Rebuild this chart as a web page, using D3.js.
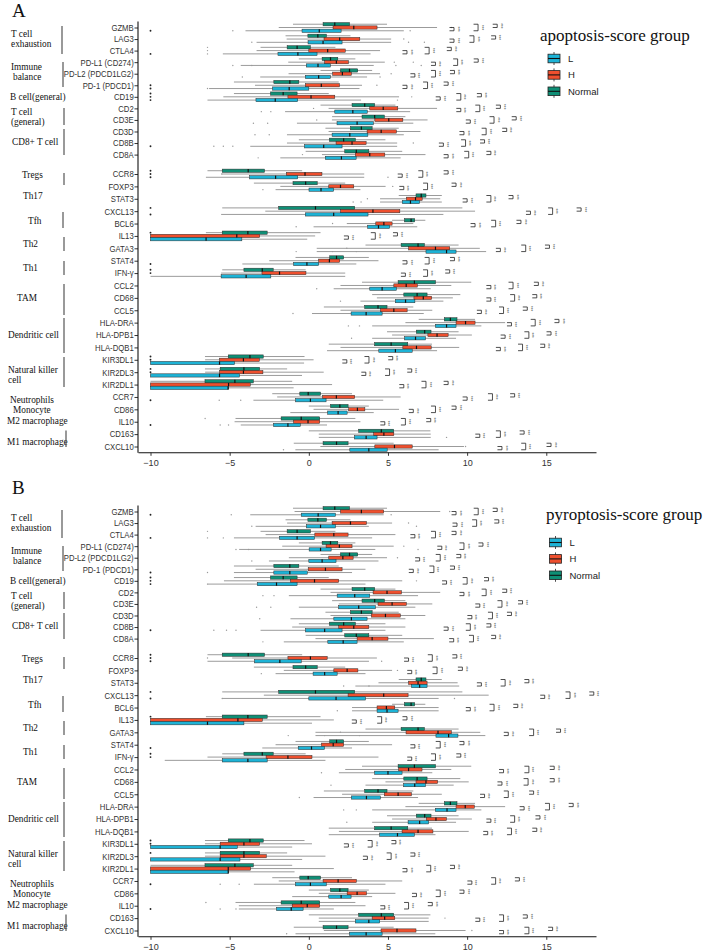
<!DOCTYPE html>
<html>
<head>
<meta charset="utf-8">
<script src="https://cdnjs.cloudflare.com/ajax/libs/d3/7.8.5/d3.min.js"></script>
<style>
  body { margin: 0; background: #fff; }
  svg { display: block; }
</style>
</head>
<body>
<svg id="chart" width="708" height="952"></svg>
<script>
// genes, top block then bottom block
var genesTop = ["GZMB", "LAG3", "CTLA4", "PD-L1 (CD274)", "PD-L2 (PDCD1LG2)", "PD-1 (PDCD1)",
  "CD19", "CD2", "CD3E", "CD3D", "CD8B", "CD8A"];
var genesBottom = ["CCR8", "FOXP3", "STAT3", "CXCL13", "BCL6", "IL13", "GATA3", "STAT4", "IFN-γ",
  "CCL2", "CD68", "CCL5", "HLA-DRA", "HLA-DPB1", "HLA-DQB1", "KIR3DL1", "KIR2DL3", "KIR2DL1",
  "CCR7", "CD86", "IL10", "CD163", "CXCL10"];
var groups = ["Normal", "H", "L"];
var legendOrder = ["L", "H", "Normal"];
var xTicks = [-10, -5, 0, 5, 10, 15];

// box stats per gene: [low whisker, q1, median, q3, high whisker]
// Normal samples are the same in both panels
var normalBox = [
  [-1.0, 0.9, 1.64, 2.57, 4.94], [-1.47, -0.06, 0.57, 1.11, 2.63], [-3.05, -1.37, -0.74, 0.1, 1.68],
  [-0.63, 0.84, 1.37, 1.83, 2.94], [0.74, 2.0, 2.57, 3.09, 4.0], [-4.73, -2.21, -1.2, -0.63, 1.89],
  [-4.73, -2.42, -1.62, -0.74, 1.26], [0.74, 2.73, 3.53, 4.16, 5.47], [1.47, 3.36, 4.16, 4.77, 6.1],
  [1.05, 2.63, 3.32, 4.0, 5.68], [-0.63, 1.3, 2.2, 2.94, 4.84], [-0.2, 2.27, 3.0, 3.79, 5.9],
  [-6.4, -5.47, -3.83, -2.8, -0.42], [-3.47, -1.0, -0.2, 0.53, 2.3], [5.68, 6.77, 7.1, 7.4, 8.4],
  [-5.47, -1.9, 0.42, 2.9, 9.7], [5.26, 6.04, 6.46, 6.69, 7.36], [-6.5, -5.47, -3.85, -2.63, 0.74],
  [3.58, 5.83, 6.9, 7.3, 9.46], [-0.84, 1.32, 1.75, 2.2, 3.79], [-5.47, -4.1, -2.94, -2.25, -0.2],
  [3.36, 5.64, 6.67, 8.0, 10.26], [4.0, 6.0, 6.84, 7.47, 9.57], [0.95, 3.53, 4.37, 4.94, 6.6],
  [6.94, 8.56, 8.94, 9.36, 10.5], [4.94, 6.79, 7.32, 7.72, 9.46], [1.26, 4.16, 5.2, 6.25, 7.78],
  [-6.56, -5.09, -3.72, -2.88, -0.27], [-6.56, -5.6, -4.1, -3.11, -1.37], [-10, -6.56, -4.67, -3.51, -1.05],
  [-2.31, -0.57, -0.04, 0.74, 2.73], [0.0, 1.37, 1.96, 2.48, 3.79], [-4.63, -1.75, -0.48, 0.69, 2.94],
  [0.0, 3.15, 4.58, 5.36, 7.68], [-0.95, 0.9, 1.75, 2.48, 5.36]
];

var apoptosisH = [
  [-1.9, 1.53, 2.84, 4.31, 8.1], [-1.4, 0.96, 1.95, 3.22, 5.2], [-3.3, 0.0, 1.19, 2.3, 4.5],
  [-1.3, 1.0, 1.74, 2.5, 4.8], [-1.28, 1.51, 2.12, 2.69, 4.5], [-3.4, -0.22, 0.79, 1.93, 3.36],
  [-5.4, -1.32, 0.14, 1.64, 5.7], [1.25, 3.85, 4.7, 5.62, 8.1], [1.46, 4.17, 5.05, 5.94, 7.5],
  [1.25, 3.68, 4.57, 5.53, 7.05], [-1.38, 1.72, 2.73, 3.62, 5.58], [0.83, 2.94, 3.85, 4.8, 7.37],
  [-5.5, -1.42, -0.24, 0.83, 3.5], [-1.8, 1.26, 2.0, 2.84, 4.85], [4.5, 6.17, 6.74, 7.16, 8.3],
  [-2.75, 2.0, 4.05, 5.75, 10.5], [2.4, 4.23, 4.74, 5.26, 6.6], [-10, -10, -4.55, -3.1, 0.4],
  [0.5, 6.3, 8.0, 8.9, 10.8], [-2.5, 0.62, 1.3, 1.95, 4.4], [-5.54, -2.96, -1.85, -0.18, 2.3],
  [2.0, 5.37, 6.15, 6.85, 9.0], [4.3, 6.64, 7.23, 7.76, 9.1], [2.0, 4.53, 5.37, 6.21, 7.8],
  [6.1, 9.3, 9.9, 10.5, 12.4], [5.26, 7.52, 8.1, 8.8, 10.3], [2.0, 5.94, 6.8, 7.73, 9.5],
  [-6.55, -5.64, -4.13, -3.13, 0.3], [-6.55, -5.64, -4.13, -2.9, 0.94], [-10, -10, -5.07, -3.7, 1.47],
  [-2.0, 0.87, 1.74, 2.9, 5.8], [0.3, 2.52, 3.07, 3.54, 5.7], [-4.69, -0.96, -0.05, 0.69, 3.26],
  [0.63, 4.1, 4.74, 5.37, 7.7], [0.73, 4.17, 5.41, 6.53, 9.8]
];
var apoptosisL = [
  [-4.0, -0.43, 0.66, 2.04, 6.0], [-3.3, -0.05, 0.9, 2.1, 5.2], [-5.43, -1.95, -0.69, 0.52, 3.9],
  [-4.3, -0.16, 0.58, 1.36, 4.1], [-3.07, -0.22, 0.62, 1.36, 3.68], [-6.3, -2.29, -1.24, 0.0, 3.2],
  [-6.4, -3.34, -2.12, -0.7, 3.3], [-1.5, 1.64, 2.78, 3.69, 6.4], [-0.75, 1.78, 3.05, 4.07, 6.6],
  [-1.38, 1.47, 2.59, 3.73, 6.0], [-3.7, -0.27, 0.94, 2.1, 5.58], [-1.8, 1.04, 2.06, 2.99, 5.8],
  [-6.5, -3.74, -2.1, -0.7, 3.5], [-2.1, 0.01, 0.77, 1.57, 3.26], [4.5, 5.9, 6.42, 7.0, 8.4],
  [-5.54, -0.22, 1.57, 3.74, 8.5], [0.3, 3.72, 4.4, 5.11, 6.85], [-10, -10, -6.49, -4.23, -0.1],
  [0.5, 7.4, 8.7, 9.3, 11.2], [-4.2, -0.96, -0.12, 0.62, 3.0], [-10, -5.54, -3.96, -2.4, 2.3],
  [1.57, 3.85, 4.63, 5.53, 7.7], [3.26, 5.47, 6.11, 6.7, 8.5], [0.2, 2.67, 3.62, 4.63, 7.26],
  [4.0, 8.0, 8.7, 9.3, 10.9], [4.0, 6.05, 6.74, 7.37, 9.3], [1.15, 4.42, 5.47, 6.53, 8.1],
  [-10, -10, -5.64, -4.69, -0.3], [-10, -10, -5.64, -4.38, -0.43], [-10, -10, -5.1, -5.07, -0.96],
  [-3.5, -0.83, 0.1, 1.09, 4.7], [-1.17, 1.19, 1.85, 2.42, 4.1], [-4.3, -2.23, -1.32, -0.54, 1.15],
  [0.63, 2.88, 3.62, 4.31, 7.7], [-0.85, 2.59, 3.79, 4.95, 8.2]
];

var pyroptosisH = [
  [-0.9, 2.0, 3.32, 4.73, 8.3], [-1.37, 1.47, 2.63, 3.64, 5.26], [-2.73, 0.38, 1.58, 2.48, 5.47],
  [-1.68, 1.09, 1.93, 2.73, 5.36], [-1.26, 1.26, 2.15, 2.8, 4.94], [-3.36, -0.04, 1.05, 2.1, 3.58],
  [-5.36, -1.16, 0.36, 1.89, 5.9], [1.37, 4.06, 4.94, 5.85, 8.3], [1.89, 4.37, 5.26, 6.16, 7.8],
  [1.37, 3.95, 4.84, 5.78, 7.36], [-1.05, 1.89, 2.84, 3.79, 6.1], [0.42, 3.05, 4.0, 5.0, 7.9],
  [-4.84, -1.32, 0.1, 1.16, 4.3], [-1.58, 1.58, 2.42, 3.1, 5.26], [4.4, 6.3, 6.9, 7.47, 9.4],
  [-2.84, 2.48, 4.73, 6.27, 11.36], [2.73, 4.31, 4.9, 5.43, 8.2], [-10, -10, -4.48, -2.94, 1.58],
  [0.42, 6.14, 8.16, 9.0, 10.83], [-2.1, 0.8, 1.54, 2.2, 5.26], [-6.4, -2.7, -1.32, 0.2, 4.4],
  [2.3, 5.68, 6.3, 7.15, 9.0], [4.84, 6.77, 7.4, 8.14, 10.1], [2.1, 4.77, 5.64, 6.48, 8.4],
  [6.1, 9.3, 9.88, 10.45, 12.4], [5.26, 7.42, 8.03, 8.69, 10.3], [1.9, 5.89, 6.9, 7.84, 10.1],
  [-6.56, -5.6, -4.1, -3.11, 0.2], [-6.56, -5.6, -4.1, -2.69, 1.05], [-10, -10, -5.09, -3.68, 1.58],
  [-1.9, 0.9, 1.85, 3.0, 5.9], [0.63, 2.42, 3.05, 3.64, 5.47], [-4.42, -1.05, -0.1, 0.69, 3.58],
  [0.63, 4.0, 4.79, 5.43, 7.57], [0.95, 4.56, 5.57, 6.77, 9.9]
];
var pyroptosisL = [
  [-3.7, -0.48, 0.59, 1.68, 4.73], [-3.36, -0.15, 0.74, 1.68, 3.79], [-4.73, -1.85, -0.74, 0.36, 4.0],
  [-4.4, 0.02, 0.74, 1.41, 4.2], [-2.52, 0.0, 0.84, 1.72, 4.4], [-4.73, -2.21, -1.2, -0.1, 2.73],
  [-6.4, -3.26, -2.04, -0.74, 3.58], [-1.26, 1.79, 2.9, 3.85, 6.9], [-0.63, 1.89, 3.15, 4.2, 6.73],
  [-1.16, 1.58, 2.69, 3.68, 6.1], [-3.05, -0.21, 1.0, 2.1, 4.84], [-1.58, 1.2, 2.17, 3.05, 6.0],
  [-6.4, -3.43, -1.83, -0.48, 3.8], [-2.1, 0.27, 1.0, 1.79, 3.58], [2.94, 6.48, 7.0, 7.47, 9.5],
  [-5.47, 0.0, 1.72, 3.58, 8.2], [2.73, 4.31, 4.94, 5.64, 8.2], [-10, -10, -6.4, -4.1, 0.2],
  [0.42, 8.03, 8.83, 9.42, 11.15], [-2.94, -0.67, 0.17, 0.99, 2.73], [-9.1, -5.47, -3.85, -2.63, 1.05],
  [1.9, 4.16, 5.0, 5.89, 7.8], [3.58, 5.99, 6.69, 7.36, 9.15], [0.3, 2.69, 3.64, 4.52, 6.9],
  [4.0, 7.99, 8.73, 9.3, 10.9], [4.0, 6.27, 7.0, 7.57, 9.3], [1.26, 4.48, 5.6, 6.67, 8.0],
  [-10, -10, -5.6, -4.52, -1.05], [-10, -10, -5.6, -4.35, -0.42], [-10, -10, -5.09, -5.09, -0.9],
  [-3.47, -0.84, 0.1, 1.1, 4.84], [-1.05, 1.26, 2.04, 2.67, 4.0], [-4.42, -2.04, -1.11, -0.36, 1.58],
  [0.63, 2.94, 3.79, 4.48, 7.57], [-0.84, 2.57, 3.62, 4.63, 7.99]
];

// significance brackets per gene: [L vs H, L vs Normal, H vs Normal] positions
var apoptosisSig = [
  [9.17, 10.69, 11.9], [9.17, 10.43, 11.8], [6.2, 7.6, 9.0], [8.0, 9.4, 10.7], [6.7, 8.0, 9.2],
  [6.2, 7.5, 8.8], [8.3, 9.6, 10.9], [9.6, 10.8, 12.1], [10.2, 11.7, 13.1], [9.8, 11.2, 12.5],
  [8.5, 9.9, 11.1], [8.8, 10.1, 11.5],
  [5.9, 7.2, 8.8], [6.0, 7.5, 9.3], [10.0, 11.5, 12.9], [14.0, 15.4, 17.2], [10.5, 11.8, 13.4],
  [2.5, 4.2, 5.6], [12.1, 13.7, 15.2], [6.2, 7.6, 9.2], [6.1, 7.5, 8.9], [11.5, 12.9, 14.5],
  [11.5, 13.0, 14.4], [10.9, 12.3, 13.8], [12.8, 14.3, 15.8], [12.4, 13.9, 15.3], [12.1, 13.5, 14.9],
  [2.4, 3.8, 5.3], [3.6, 5.1, 6.5], [6.0, 7.4, 8.8], [10.0, 11.6, 13.0], [6.6, 8.0, 9.3],
  [4.8, 6.1, 7.7], [10.8, 12.1, 13.6], [12.2, 13.7, 15.3]
];
var pyroptosisSig = [
  [9.3, 10.7, 11.9], [9.36, 10.6, 12.0], [6.7, 8.0, 9.3], [8.4, 9.8, 11.0], [7.0, 8.3, 9.6],
  [6.6, 7.9, 9.2], [8.7, 10.0, 11.35], [9.8, 11.2, 12.5], [10.8, 12.2, 13.5], [10.3, 11.6, 12.8],
  [8.8, 10.2, 11.5], [9.15, 10.4, 11.8],
  [6.3, 7.8, 9.35], [6.5, 8.1, 9.7], [10.9, 12.4, 13.9], [14.9, 16.5, 18.0], [10.2, 11.7, 13.2],
  [3.0, 4.6, 6.2], [12.6, 14.2, 15.9], [6.7, 8.3, 9.8], [6.5, 8.0, 9.6], [12.3, 13.9, 15.5],
  [12.2, 13.85, 15.5], [11.1, 12.6, 14.2], [13.6, 15.2, 16.7], [11.5, 13.0, 14.6], [11.3, 12.8, 14.4],
  [2.5, 4.0, 5.5], [3.7, 5.2, 6.7], [6.2, 7.7, 9.2], [10.3, 11.8, 13.3], [6.8, 8.3, 9.8],
  [4.8, 6.3, 7.8], [10.8, 12.3, 13.8], [12.3, 13.9, 15.4]
];

// outlier points: [gene, group, value]
var apoptosisOut = [
  ["GZMB", "L", -10], ["GZMB", "L", -4.8], ["GZMB", "L", 6.4], ["GZMB", "H", 9.0],
  ["LAG3", "H", 6.0], ["LAG3", "L", -3.6], ["LAG3", "L", 6.3], ["LAG3", "L", 7.3],
  ["CTLA4", "L", -10], ["CTLA4", "Normal", -6.4], ["CTLA4", "H", -6.4], ["CTLA4", "L", -6.4],
  ["PD-L1 (CD274)", "L", -4.8], ["PD-L1 (CD274)", "L", -3.6], ["PD-L1 (CD274)", "H", 5.4],
  ["PD-L1 (CD274)", "H", 6.6], ["PD-L1 (CD274)", "L", 5.5], ["PD-L1 (CD274)", "L", 7.1],
  ["PD-L2 (PDCD1LG2)", "L", -4.2], ["PD-L2 (PDCD1LG2)", "H", 5.2], ["PD-L2 (PDCD1LG2)", "L", 4.5],
  ["PD-1 (PDCD1)", "H", -10], ["PD-1 (PDCD1)", "L", -10], ["PD-1 (PDCD1)", "L", -6.4], ["PD-1 (PDCD1)", "H", 4.3],
  ["CD19", "Normal", -10], ["CD19", "H", -10], ["CD19", "L", -10], ["CD19", "H", 6.5], ["CD19", "L", 5.6],
  ["CD2", "L", -3.0], ["CD2", "L", -2.4], ["CD2", "H", 0.3],
  ["CD3E", "L", -3.5], ["CD3E", "L", -2.6], ["CD3E", "H", 0.5], ["CD3D", "L", -3.4], ["CD3D", "L", -2.5],
  ["CD8B", "L", -10], ["CD8B", "L", -6.0], ["CD8B", "L", -5.4], ["CD8B", "L", -4.8], ["CD8B", "H", 6.6],
  ["CD8A", "L", -3.2], ["CD8A", "H", -0.4],
  ["CCR8", "Normal", -10], ["CCR8", "H", -10], ["CCR8", "L", -10], ["CCR8", "H", -5.5], ["CCR8", "L", 5.0],
  ["FOXP3", "L", -2.9], ["FOXP3", "H", 5.3],
  ["STAT3", "L", 3.3], ["STAT3", "L", 2.8], ["STAT3", "H", 3.7],
  ["CXCL13", "Normal", -10], ["CXCL13", "L", -10],
  ["BCL6", "L", -0.8], ["BCL6", "H", 1.5],
  ["IL13", "Normal", -10],
  ["GATA3", "L", -0.8], ["GATA3", "L", 1.5], ["GATA3", "H", 2.4], ["GATA3", "L", 3.0],
  ["STAT4", "L", -10], ["IFN-γ", "Normal", -10], ["IFN-γ", "H", -10],
  ["CCL2", "L", 0.5], ["CD68", "L", 2.0], ["CCL5", "L", -1.0],
  ["HLA-DRA", "L", 2.5], ["HLA-DRA", "L", 3.2], ["HLA-DPB1", "L", 2.7],
  ["KIR3DL1", "Normal", -10], ["KIR3DL1", "H", -10], ["KIR2DL3", "Normal", -10], ["KIR2DL3", "H", -10],
  ["CCR7", "L", -10], ["CCR7", "L", -5.66], ["CCR7", "L", -4.3],
  ["IL10", "L", -10], ["IL10", "Normal", -6.55], ["IL10", "L", -5.6], ["IL10", "L", -5.07],
  ["CD163", "L", 8.7], ["CXCL10", "L", -1.6], ["CXCL10", "H", 9.9]
];
var pyroptosisOut = [
  ["GZMB", "L", -10], ["GZMB", "L", -4.9], ["GZMB", "L", 5.2], ["GZMB", "H", 8.9],
  ["LAG3", "H", 6.3], ["LAG3", "L", -3.6], ["LAG3", "L", 6.8],
  ["CTLA4", "L", -10], ["CTLA4", "Normal", -6.4], ["CTLA4", "L", -6.4], ["CTLA4", "L", -5.4],
  ["PD-L1 (CD274)", "L", -4.6], ["PD-L1 (CD274)", "L", -3.8], ["PD-L1 (CD274)", "H", 6.0], ["PD-L1 (CD274)", "L", 6.9],
  ["PD-L2 (PDCD1LG2)", "L", -3.6], ["PD-L2 (PDCD1LG2)", "H", 5.6],
  ["PD-1 (PDCD1)", "L", -10], ["PD-1 (PDCD1)", "L", -6.4],
  ["CD19", "Normal", -10], ["CD19", "H", -10], ["CD19", "L", -10], ["CD19", "L", -6.4], ["CD19", "H", 6.8],
  ["CD2", "L", -2.9], ["CD2", "L", -2.2], ["CD3E", "L", -3.3], ["CD3E", "L", -2.4], ["CD3D", "L", -3.1],
  ["CD8B", "L", -10], ["CD8B", "L", -6.0], ["CD8B", "L", -5.2], ["CD8B", "L", -4.6],
  ["CD8A", "L", -2.9],
  ["CCR8", "Normal", -10], ["CCR8", "H", -10], ["CCR8", "L", -10], ["CCR8", "H", -6.4], ["CCR8", "L", 4.6],
  ["FOXP3", "L", -3.0], ["FOXP3", "H", 5.6],
  ["STAT3", "L", 2.2], ["STAT3", "L", 3.8],
  ["CXCL13", "Normal", -10], ["CXCL13", "L", -10], ["CXCL13", "L", -5.47], ["CXCL13", "L", 9.2],
  ["BCL6", "L", 1.8],
  ["IL13", "Normal", -10],
  ["GATA3", "L", -1.3], ["GATA3", "L", 1.0], ["GATA3", "H", 2.0], ["GATA3", "L", 3.2],
  ["STAT4", "L", -10], ["IFN-γ", "Normal", -10], ["IFN-γ", "H", -10],
  ["CCL2", "L", 0.8], ["CD68", "L", 1.4], ["CCL5", "L", -0.6],
  ["HLA-DRA", "L", 2.2], ["HLA-DRA", "L", 3.0], ["HLA-DPB1", "L", 2.4],
  ["KIR3DL1", "Normal", -10], ["KIR3DL1", "H", -10], ["KIR2DL3", "Normal", -10],
  ["CCR7", "L", -10], ["CCR7", "L", -5.6], ["CCR7", "L", -4.4],
  ["IL10", "L", -10], ["IL10", "Normal", -6.5], ["IL10", "L", -5.6], ["IL10", "L", -4.6],
  ["CD163", "H", 8.6], ["CXCL10", "L", -1.4], ["CXCL10", "H", 10.3]
];

// left-hand cell type annotations (y = text centre inside a panel)
var sideGroups = [
  {text: ["T cell", "exhaustion"], x: [11, 11], y: [34, 44], bar: [26, 54], barX: 62},
  {text: ["Immune", "balance"], x: [11, 13], y: [66.5, 76.5], bar: [62, 87], barX: 63},
  {text: ["B cell(general)"], x: [10], y: [97]},
  {text: ["T cell", "(general)"], x: [11, 11], y: [111.5, 121.5], bar: [108, 125], barX: 64},
  {text: ["CD8+ T cell"], x: [12], y: [142], bar: [129, 155], barX: 64},
  {text: ["Tregs"], x: [22], y: [175], bar: [173, 185], barX: 64},
  {text: ["Th17"], x: [23], y: [196]},
  {text: ["Tfh"], x: [28], y: [220.5], bar: [212, 228], barX: 63},
  {text: ["Th2"], x: [23], y: [243.5], bar: [237, 251], barX: 64},
  {text: ["Th1"], x: [23], y: [268], bar: [261, 275], barX: 64},
  {text: ["TAM"], x: [17], y: [297.5], bar: [284, 315], barX: 64},
  {text: ["Dendritic cell"], x: [8], y: [334.7], bar: [318, 353], barX: 64},
  {text: ["Natural killer", "cell"], x: [8, 8], y: [370, 380], bar: [357, 387], barX: 64},
  {text: ["Neutrophils", "Monocyte"], x: [10, 13], y: [399.5, 409.5]},
  {text: ["M2 macrophage"], x: [7], y: [420.5]},
  {text: ["M1 macrophage"], x: [7], y: [442], bar: [430.5, 447], barX: 66}
];

var colors = {L: "#1db3d6", H: "#ee4f2e", Normal: "#0f8f76"};
var allGenes = genesTop.concat(genesBottom);
var svg = d3.select("#chart");

var x = d3.scaleLinear().domain([-10.79, 18.14]).range([138, 596]);

function drawPanel(p) {
  var g = svg.append("g").attr("transform", "translate(0," + p.top + ")");

  var yTop = d3.scalePoint().domain(genesTop).range([27.5, 154.6]),
      yBot = d3.scalePoint().domain(genesBottom).range([174, 446.5]),
      dodge = d3.scaleBand().domain(groups).range([-4.9, 4.9]);
  var bw = dodge.bandwidth();

  function yGene(name) { return genesTop.indexOf(name) >= 0 ? yTop(name) : yBot(name); }
  function yBox(name, grp) { return yGene(name) + dodge(grp) + bw / 2; }

  var rows = [];
  allGenes.forEach(function(name, i) {
    groups.forEach(function(grp) {
      var s = grp === "Normal" ? normalBox[i] : (grp === "H" ? p.high[i] : p.low[i]);
      rows.push({gene: name, group: grp, lo: s[0], q1: s[1], med: s[2], q3: s[3], hi: s[4]});
    });
  });

  // whiskers
  g.append("g").selectAll("line")
    .data(rows)
    .enter().append("line")
      .attr("x1", function(d) { return x(d.lo); })
      .attr("x2", function(d) { return x(d.hi); })
      .attr("y1", function(d) { return yBox(d.gene, d.group); })
      .attr("y2", function(d) { return yBox(d.gene, d.group); })
      .attr("stroke", "#909090")
      .attr("stroke-width", 0.9);

  // outliers
  g.append("g").selectAll("circle")
    .data(p.outliers)
    .enter().append("circle")
      .attr("cx", function(d) { return x(d[2]); })
      .attr("cy", function(d) { return yBox(d[0], d[1]); })
      .attr("r", function(d) { return d[2] <= -10 ? 0.95 : 0.7; })
      .attr("fill", function(d) { return d[2] <= -10 ? "#222" : "#999"; });

  // boxes
  g.append("g").selectAll("rect")
    .data(rows)
    .enter().append("rect")
      .attr("x", function(d) { return x(d.q1); })
      .attr("width", function(d) { return Math.max(x(d.q3) - x(d.q1), 0.5); })
      .attr("y", function(d) { return yBox(d.gene, d.group) - bw / 2; })
      .attr("height", bw)
      .attr("fill", function(d) { return colors[d.group]; })
      .attr("stroke", "#2b2b2b")
      .attr("stroke-width", 0.5);

  // medians
  g.append("g").selectAll("line")
    .data(rows)
    .enter().append("line")
      .attr("x1", function(d) { return x(d.med); })
      .attr("x2", function(d) { return x(d.med); })
      .attr("y1", function(d) { return yBox(d.gene, d.group) - bw / 2; })
      .attr("y2", function(d) { return yBox(d.gene, d.group) + bw / 2; })
      .attr("stroke", "#111")
      .attr("stroke-width", 1.2);

  // significance brackets
  var pairs = [["H", "L"], ["Normal", "L"], ["Normal", "H"]];
  var br = [];
  allGenes.forEach(function(name, i) {
    p.sig[i].forEach(function(v, k) {
      br.push({gene: name, v: v, a: pairs[k][0], b: pairs[k][1]});
    });
  });
  var sg = g.append("g").selectAll("g")
    .data(br)
    .enter().append("g");
  sg.append("path")
    .attr("d", function(d) {
      var bx = x(d.v), y1 = yBox(d.gene, d.a), y2 = yBox(d.gene, d.b);
      return "M" + (bx - 4.5) + "," + y1 + "H" + bx + "V" + y2 + "H" + (bx - 4.5);
    })
    .attr("fill", "none")
    .attr("stroke", "#222")
    .attr("stroke-width", 0.8);
  sg.append("text")
    .attr("transform", function(d) {
      var ym = (yBox(d.gene, d.a) + yBox(d.gene, d.b)) / 2;
      return "translate(" + (x(d.v) + 1.6) + "," + ym + ") rotate(90)";
    })
    .attr("text-anchor", "middle")
    .style("font", "4.5px 'Liberation Sans', sans-serif")
    .attr("fill", "#444")
    .text("***");

  // axes (gene names are set narrow, like the original)
  [yTop, yBot].forEach(function(sc) {
    g.append("g")
      .attr("transform", "translate(138,0)")
      .call(d3.axisLeft(sc).tickSize(3.5).tickPadding(1.5))
      .call(function(a) {
        a.select(".domain").remove();
        a.selectAll("text")
          .style("font", "9px 'Liberation Sans', Arial, sans-serif")
          .attr("fill", "#333")
          .attr("transform", "scale(0.86,1)");
        a.selectAll("line").attr("stroke", "#333");
      });
  });
  g.append("line")
    .attr("x1", 138).attr("x2", 138)
    .attr("y1", 21.5).attr("y2", 452.8)
    .attr("stroke", "#111").attr("stroke-width", 1.1);

  g.append("g")
    .attr("transform", "translate(0,452.3)")
    .call(d3.axisBottom(x).tickValues(xTicks).tickSize(3.5).tickSizeOuter(0).tickPadding(3.5))
    .call(function(a) {
      a.select(".domain").attr("stroke", "#111").attr("stroke-width", 1.1);
      a.selectAll("text").style("font", "9px 'Liberation Sans', Arial, sans-serif").attr("fill", "#333");
      a.selectAll("line").attr("stroke", "#333");
    });

  // cover long gene labels behind the side annotations
  g.append("rect")
    .attr("x", 0).attr("y", 20).attr("width", 62.5).attr("height", 432)
    .attr("fill", "#fff");

  var side = g.append("g").selectAll("g")
    .data(sideGroups)
    .enter().append("g");
  side.each(function(d) {
    var s = d3.select(this);
    d.text.forEach(function(t, k) {
      s.append("text")
        .attr("x", d.x[k])
        .attr("y", d.y[k])
        .attr("dy", "0.35em")
        .style("font", "9.3px 'Liberation Serif', 'Times New Roman', serif")
        .attr("fill", "#111")
        .text(t);
    });
    if (d.bar) {
      s.append("line")
        .attr("x1", d.barX).attr("x2", d.barX)
        .attr("y1", d.bar[0]).attr("y2", d.bar[1])
        .attr("stroke", "#555").attr("stroke-width", 1.2);
    }
  });

  // legend
  var lg = g.append("g");
  lg.append("text")
    .attr("x", p.titleX).attr("y", p.titleY)
    .style("font", "17px 'Liberation Serif', 'Times New Roman', serif")
    .attr("fill", "#111")
    .text(p.title);
  var keyY = d3.scalePoint().domain(legendOrder).range([58.5, 91.3]);
  var key = lg.selectAll(".key")
    .data(legendOrder)
    .enter().append("g")
      .attr("class", "key")
      .attr("transform", function(d) { return "translate(" + p.keyX + "," + keyY(d) + ")"; });
  key.append("line")
    .attr("x1", 6).attr("x2", 6).attr("y1", -6.5).attr("y2", 6.5)
    .attr("stroke", "#222").attr("stroke-width", 0.8);
  key.append("rect")
    .attr("x", 0).attr("y", -4.3).attr("width", 12).attr("height", 8.6)
    .attr("fill", function(d) { return colors[d]; })
    .attr("stroke", "#222").attr("stroke-width", 0.8);
  key.append("line")
    .attr("x1", 0).attr("x2", 12).attr("y1", 0).attr("y2", 0)
    .attr("stroke", "#111").attr("stroke-width", 1.1);
  key.append("text")
    .attr("x", 20).attr("y", 0).attr("dy", "0.35em")
    .style("font", "9.5px 'Liberation Sans', Arial, sans-serif")
    .attr("fill", "#222")
    .text(function(d) { return d; });

  svg.append("text")
    .attr("x", 12).attr("y", p.letterY)
    .style("font", "19px 'Liberation Serif', 'Times New Roman', serif")
    .attr("fill", "#111")
    .text(p.letter);
}

drawPanel({top: 0, letter: "A", letterY: 17, title: "apoptosis-score group", titleX: 540, titleY: 41,
  keyX: 548, high: apoptosisH, low: apoptosisL, sig: apoptosisSig, outliers: apoptosisOut});
drawPanel({top: 484, letter: "B", letterY: 494, title: "pyroptosis-score group", titleX: 546, titleY: 36,
  keyX: 549.5, high: pyroptosisH, low: pyroptosisL, sig: pyroptosisSig, outliers: pyroptosisOut});
</script>
</body>
</html>
